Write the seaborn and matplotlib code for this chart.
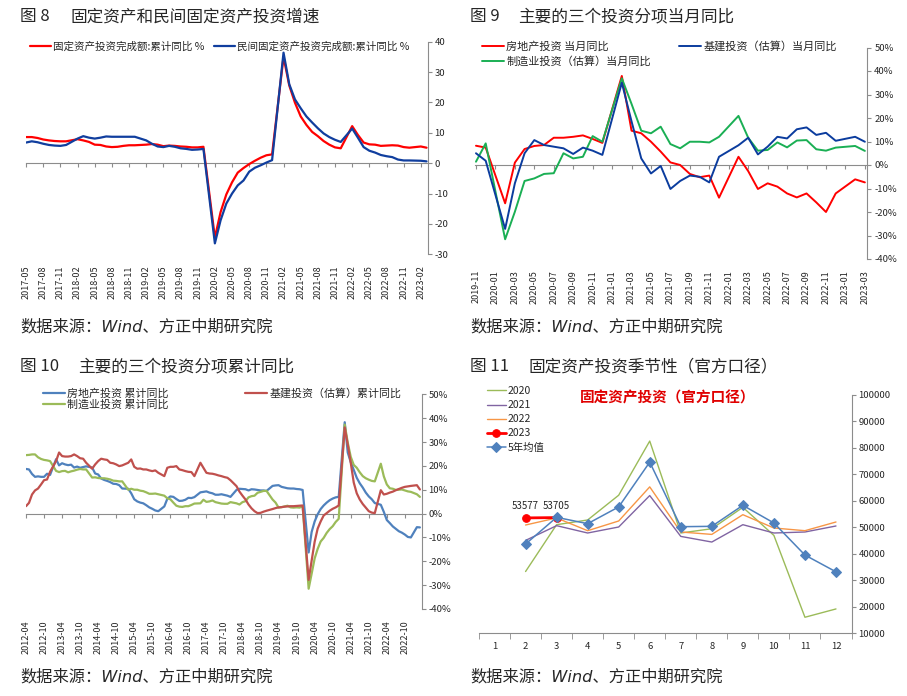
import matplotlib
matplotlib.use('Agg')
import matplotlib.pyplot as plt
from matplotlib.ticker import FuncFormatter
import numpy as np
import pandas as pd
import seaborn as sns

# ---------------- data ----------------
# 图8: 累计同比 %, 2017-05 .. 2023-03 (January not published -> None)
fai_months = pd.date_range('2017-05', '2023-03', freq='MS')
fai_total = [8.6, 8.6, 8.3, 7.8, 7.5, 7.3, 7.2, 7.2,
             None, 7.9, 7.5, 7.0, 6.1, 6.0, 5.5, 5.3, 5.4, 5.7, 5.9, 5.9,
             None, 6.1, 6.3, 6.1, 5.6, 5.8, 5.7, 5.5, 5.4, 5.2, 5.2, 5.4,
             None, -24.5, -16.1, -10.3, -6.3, -3.1, -1.6, -0.3, 0.8, 1.8, 2.6, 2.9,
             None, 35.0, 25.6, 19.9, 15.4, 12.6, 10.3, 8.9, 7.3, 6.1, 5.2, 4.9,
             None, 12.2, 9.3, 6.8, 6.2, 6.1, 5.7, 5.8, 5.9, 5.8, 5.3, 5.1,
             None, 5.5, 5.1]
fai_private = [6.8, 7.2, 6.9, 6.4, 6.0, 5.8, 5.7, 6.0,
               None, 8.1, 8.9, 8.4, 8.1, 8.4, 8.8, 8.7, 8.7, 8.7, 8.7, 8.7,
               None, 7.5, 6.4, 5.5, 5.3, 5.7, 5.4, 4.9, 4.7, 4.4, 4.5, 4.7,
               None, -26.4, -18.8, -13.3, -10.0, -7.3, -5.7, -2.8, -1.5, -0.7, 0.2, 1.0,
               None, 36.4, 26.0, 21.0, 18.1, 15.4, 13.4, 11.5, 9.8, 8.6, 7.7, 7.0,
               None, 11.4, 8.4, 5.3, 4.1, 3.5, 2.7, 2.3, 2.0, 1.2, 0.9, 0.9,
               None, 0.8, 0.6]

# 图9: 当月同比 %, 2019-11 .. 2023-03
mon_months = pd.date_range('2019-11', '2023-03', freq='MS')
mon_estate = [8.2, 7.4,
              None, -16.3, 1.0, 6.8, 8.1, 8.5, 11.6, 11.6, 12.0, 12.6, 11.1, 9.4,
              None, 37.9, 14.6, 13.5, 9.9, 5.7, 1.1, 0.0, -3.8, -5.2, -4.5, -13.9,
              None, 3.5, -2.6, -10.2, -7.8, -9.2, -12.1, -13.8, -12.1, -15.9, -20.0, -12.1,
              None, -6.1, -7.4]
mon_infra = [5.0, 1.8,
             None, -27.2, -7.8, 5.0, 10.6, 8.5, 7.8, 7.1, 4.7, 7.4, 6.1, 4.3,
             None, 35.0, 18.6, 2.8, -3.6, -0.4, -10.2, -6.8, -4.5, -5.0, -7.4, 3.5,
             None, 8.4, 11.6, 4.5, 7.8, 12.0, 11.3, 15.2, 16.0, 12.8, 13.7, 10.3,
             None, 12.0, 9.9]
mon_manu = [1.4, 9.2,
            None, -31.6, -19.9, -6.8, -5.7, -3.8, -3.5, 5.0, 2.8, 3.5, 12.3, 9.9,
            None, 36.9, 26.0, 14.6, 13.5, 16.3, 8.9, 7.1, 9.9, 9.9, 9.6, 12.0,
            None, 20.9, 11.6, 6.1, 6.4, 9.6, 7.5, 10.4, 10.6, 6.7, 6.1, 7.4,
            None, 8.1, 6.0]

# 图10: 累计同比 %, 2012-04 .. 2023-03
cum_months = pd.date_range('2012-04', '2023-03', freq='MS')
cum_estate = [18.7, 18.5, 16.6, 15.4, 15.6, 15.4, 15.4, 16.7, 16.2,
              None, 22.8, 20.2, 21.1, 20.6, 20.3, 20.5, 19.3, 19.7, 19.2, 19.5, 19.8,
              None, 19.3, 16.8, 16.4, 14.7, 14.1, 13.7, 13.2, 12.5, 12.4, 11.9, 10.5,
              None, 10.4, 8.5, 6.0, 5.1, 4.6, 4.3, 3.5, 2.6, 2.0, 1.3, 1.0,
              None, 3.0, 6.2, 7.2, 7.0, 6.1, 5.3, 5.4, 5.8, 6.6, 6.5, 6.9,
              None, 8.9, 9.1, 9.3, 8.8, 8.5, 7.9, 7.9, 8.1, 7.8, 7.5, 7.0,
              None, 9.9, 10.4, 10.3, 10.2, 9.7, 10.2, 10.1, 9.9, 9.7, 9.7, 9.5,
              None, 11.6, 11.8, 11.9, 11.2, 10.9, 10.6, 10.5, 10.5, 10.3, 10.2, 9.9,
              None, -16.3, -7.7, -3.3, -0.3, 1.9, 3.4, 4.6, 5.6, 6.3, 6.8, 7.0,
              None, 38.3, 25.6, 21.6, 18.3, 15.0, 12.7, 10.9, 8.8, 7.2, 6.0, 4.4,
              None, 3.7, 0.7, -2.7, -4.0, -5.4, -6.4, -7.4, -8.0, -8.8, -9.8, -10.0,
              None, -5.7, -5.8]
cum_infra = [3.1, 4.5, 8.0, 9.7, 10.5, 12.2, 14.0, 14.3, 17.5,
             None, 22.0, 25.6, 24.1, 23.9, 23.9, 24.1, 24.8, 24.1, 23.2, 23.0, 21.3,
             None, 18.8, 20.6, 22.0, 23.0, 22.7, 22.5, 21.3, 21.1, 20.6, 19.9, 20.2,
             None, 21.3, 22.7, 19.6, 18.8, 18.9, 18.5, 18.5, 18.1, 17.8, 18.1, 17.1,
             None, 15.7, 19.2, 19.6, 19.6, 19.9, 18.5, 18.2, 17.8, 17.5, 17.4, 15.7,
             None, 21.3, 19.2, 17.1, 16.8, 16.7, 16.4, 16.0, 15.7, 15.3, 15.0, 14.0,
             None, 11.5, 9.2, 7.5, 5.9, 3.8, 2.2, 1.0, 0.2, 0.3, 0.8, 1.2,
             None, 1.9, 2.3, 2.6, 2.7, 2.9, 3.0, 3.1, 3.1, 3.2, 3.3, 3.4,
             None, -27.8, -19.7, -11.8, -6.3, -3.3, -0.8, 0.2, 1.2, 2.0, 2.6, 3.4,
             None, 36.1, 29.0, 21.3, 13.0, 8.5, 5.9, 4.0, 2.5, 1.0, 0.4, 0.2,
             None, 9.8, 8.0, 8.3, 8.8, 9.2, 9.8, 10.3, 10.8, 11.2, 11.4, 11.6,
             None, 11.9, 10.1]
cum_manu = [24.5, 24.6, 24.8, 24.8, 23.6, 22.9, 22.5, 22.3, 22.0,
            None, 17.9, 17.4, 17.8, 17.9, 17.3, 17.7, 18.0, 18.4, 18.7, 18.5, 18.5,
            None, 15.1, 15.2, 14.9, 14.8, 14.8, 14.6, 14.3, 13.8, 13.7, 13.5, 13.5,
            None, 10.0, 10.4, 10.0, 10.0, 9.6, 9.4, 8.9, 8.3, 8.3, 8.4, 8.1,
            None, 7.5, 6.4, 6.0, 4.6, 3.3, 2.9, 2.8, 3.1, 3.1, 3.6, 4.2,
            None, 4.3, 5.8, 4.9, 5.1, 5.5, 4.8, 4.5, 4.2, 4.1, 4.1, 4.8,
            None, 4.3, 3.8, 4.8, 5.2, 6.8, 7.3, 7.5, 8.7, 9.1, 9.5, 9.5,
            None, 5.9, 4.6, 2.5, 2.7, 3.0, 3.3, 2.6, 2.5, 2.6, 2.5, 3.1,
            None, -31.5, -25.2, -18.8, -14.8, -11.7, -10.2, -8.1, -6.5, -5.3, -3.5, -2.2,
            None, 37.3, 29.8, 23.8, 20.4, 19.2, 17.3, 15.7, 14.8, 14.2, 13.7, 13.5,
            None, 20.9, 15.6, 12.2, 10.6, 10.4, 9.9, 10.0, 10.1, 9.7, 9.3, 9.1,
            None, 8.1, 7.0]

# 图11: 当月固定资产投资(亿元), months 1..12
season_months = list(range(1, 13))
season_2020 = [None, 33330, 51020, 52800, 62150, 82600, 47880, 49500, 57580, 46970, 16060, 19200]
season_2021 = [None, 45080, 50650, 47880, 50150, 62020, 46600, 44470, 51020, 47880, 48260, 50530]
season_2022 = [None, 50900, 53560, 48750, 52420, 65300, 48260, 47350, 54800, 49770, 48750, 52040]
season_2023 = [None, 53577, 53705, None, None, None, None, None, None, None, None, None]
season_avg5 = [None, 43700, 53800, 51400, 57730, 74650, 50260, 50400, 58330, 51670, 39550, 33220]

# ---------------- style ----------------
W, H = 907, 696
GRAY = '#8c8c8c'
sns.set_style('white')
plt.rcParams['font.family'] = ['Noto Sans CJK SC', 'DejaVu Sans']
plt.rcParams['axes.unicode_minus'] = False

fig = plt.figure(figsize=(W / 100, H / 100), dpi=100)


def px_rect(l, t, r, b):
    return [l / W, 1 - b / H, (r - l) / W, (b - t) / H]


def fig_xy(x, y):
    return (x / W, 1 - y / H)


def headline(x_no, x_title, y, no, title):
    fig.text(*fig_xy(x_no, y), no, fontsize=12, va='center')
    fig.text(*fig_xy(x_title, y), title, fontsize=12, va='center')


def source(x, y):
    fig.text(*fig_xy(x, y), '数据来源：Wind、方正中期研究院', fontsize=11.7, va='center',
             style='italic', family=['DejaVu Sans', 'Noto Sans CJK SC'])


def line_panel(ax, months, series, ylim, ystep, xmax, tick_every, lw, pct):
    x = np.arange(len(months))
    for label, values, color in series:
        d = pd.DataFrame({'x': x, 'v': values}).dropna()
        sns.lineplot(data=d, x='x', y='v', color=color, lw=lw, label=label, ax=ax)
    ax.set(xlabel='', ylabel='')
    ax.set_xlim(-0.1, xmax)
    ax.set_ylim(*ylim)
    ax.set_yticks(np.arange(ylim[0], ylim[1] + 1, ystep))
    if pct:
        ax.yaxis.set_major_formatter(FuncFormatter(lambda v, p: f'{v:.0f}%'))
    ax.yaxis.tick_right()
    for s in ['left', 'top', 'bottom']:
        ax.spines[s].set_visible(False)
    ax.spines['right'].set_color(GRAY)
    ax.tick_params(axis='y', length=3, color=GRAY, labelsize=6.8, pad=2, right=True)
    ticks = x[::tick_every]
    ax.set_xticks(ticks)
    ax.set_xticklabels(months.strftime('%Y-%m')[::tick_every], rotation=90)
    ax.tick_params(axis='x', length=0, labelsize=6.5, pad=8)
    # horizontal axis drawn through zero
    sec = ax.secondary_xaxis(-ylim[0] / (ylim[1] - ylim[0]))
    sec.set_xticks(ticks)
    sec.tick_params(axis='x', length=3, color=GRAY, labelbottom=False)
    sec.spines['bottom'].set_color(GRAY)


# ---------------- 图8 ----------------
headline(20, 70, 17, '图 8', '固定资产和民间固定资产投资增速')
ax1 = fig.add_axes(px_rect(25.5, 41.7, 427.7, 254.3))
line_panel(ax1, fai_months,
           [('固定资产投资完成额:累计同比 %', fai_total, '#FF0000'),
            ('民间固定资产投资完成额:累计同比 %', fai_private, '#103E9E')],
           (-30, 40), 10, 70.2, 3, 1.6, False)
ax1.legend(loc='upper left', bbox_to_anchor=fig_xy(30, 41), bbox_transform=fig.transFigure,
           ncol=2, frameon=False, fontsize=7.6, handlelength=2.0, handletextpad=0.2,
           columnspacing=0.9, borderpad=0, borderaxespad=0)
source(20, 327)

# ---------------- 图9 ----------------
headline(470, 518, 17, '图 9', '主要的三个投资分项当月同比')
ax2 = fig.add_axes(px_rect(475, 47.5, 867.3, 259))
line_panel(ax2, mon_months,
           [('房地产投资 当月同比', mon_estate, '#FF0000'),
            ('制造业投资（估算）当月同比', mon_manu, '#1AAF54'),
            ('基建投资（估算）当月同比', mon_infra, '#0B3C9E')],
           (-40, 50), 10, 40.25, 2, 1.4, True)
h2 = ax2.get_lines()
ax2.legend(handles=h2[:3], loc='upper left', bbox_to_anchor=fig_xy(482, 41),
           bbox_transform=fig.transFigure, ncol=2, frameon=False, fontsize=8.0,
           handlelength=2.0, handletextpad=0.2, columnspacing=2.5, borderpad=0,
           borderaxespad=0, labelspacing=0.35)
source(470, 327)

# ---------------- 图10 ----------------
headline(20, 78, 367, '图 10', '主要的三个投资分项累计同比')
ax3 = fig.add_axes(px_rect(25.7, 394.3, 421.7, 609))
line_panel(ax3, cum_months,
           [('房地产投资 累计同比', cum_estate, '#4F81BD'),
            ('制造业投资 累计同比', cum_manu, '#9BBB59'),
            ('基建投资（估算）累计同比', cum_infra, '#C0504D')],
           (-40, 50), 10, 131.6, 6, 1.6, True)
h3 = ax3.get_lines()
ax3.legend(handles=h3[:3], loc='upper left', bbox_to_anchor=fig_xy(43, 388),
           bbox_transform=fig.transFigure, ncol=2, frameon=False, fontsize=7.9,
           handlelength=2.0, handletextpad=0.2, columnspacing=7.0, borderpad=0,
           borderaxespad=0, labelspacing=0.1)
source(20, 677)

# ---------------- 图11 ----------------
headline(470, 528, 367, '图 11', '固定资产投资季节性（官方口径）')
ax4 = fig.add_axes(px_rect(479, 395, 851.5, 633.3))
season = [('2020', season_2020, '#9BBB59', None, 1.0),
          ('2021', season_2021, '#8064A2', None, 1.0),
          ('2022', season_2022, '#F79646', None, 1.0),
          ('2023', season_2023, '#FF0000', 'o', 2.0),
          ('5年均值', season_avg5, '#4F81BD', 'D', 1.1)]
for label, values, color, marker, lw in season:
    d = pd.DataFrame({'m': season_months, 'v': values}).dropna()
    sns.lineplot(data=d, x='m', y='v', color=color, lw=lw, marker=marker,
                 markersize=5.5, markeredgecolor=color, label=label, ax=ax4)
for m, v in zip(season_months, season_2023):
    if v is not None:
        ax4.annotate(f'{v:.0f}', (m, v), xytext=(0, 5), textcoords='offset points',
                     ha='center', va='bottom', fontsize=7)
ax4.set(xlabel='', ylabel='')
ax4.set_xlim(0.5, 12.5)
ax4.set_ylim(10000, 100000)
ax4.set_yticks(np.arange(10000, 100001, 10000))
ax4.yaxis.tick_right()
for s in ['left', 'top']:
    ax4.spines[s].set_visible(False)
ax4.spines['right'].set_color(GRAY)
ax4.spines['bottom'].set_color(GRAY)
ax4.tick_params(axis='y', length=3, color=GRAY, labelsize=6.8, pad=2, right=True)
ax4.set_xticks(season_months)
ax4.set_xticks(np.arange(0.5, 13, 1), minor=True)
ax4.tick_params(axis='x', which='major', length=0, labelsize=6.8, pad=6)
ax4.tick_params(axis='x', which='minor', length=4, color=GRAY, bottom=True)
ax4.text(*fig_xy(668, 397), '固定资产投资（官方口径）', transform=fig.transFigure,
         ha='center', va='center', fontsize=10.5, fontweight='bold', color='#E00000')
ax4.legend(loc='upper left', bbox_to_anchor=fig_xy(487, 386), bbox_transform=fig.transFigure,
           frameon=False, fontsize=7.5, handlelength=1.8, handletextpad=0.2,
           labelspacing=0.4, borderpad=0, borderaxespad=0)
source(470, 677)

fig.savefig('out.png', dpi=100)
